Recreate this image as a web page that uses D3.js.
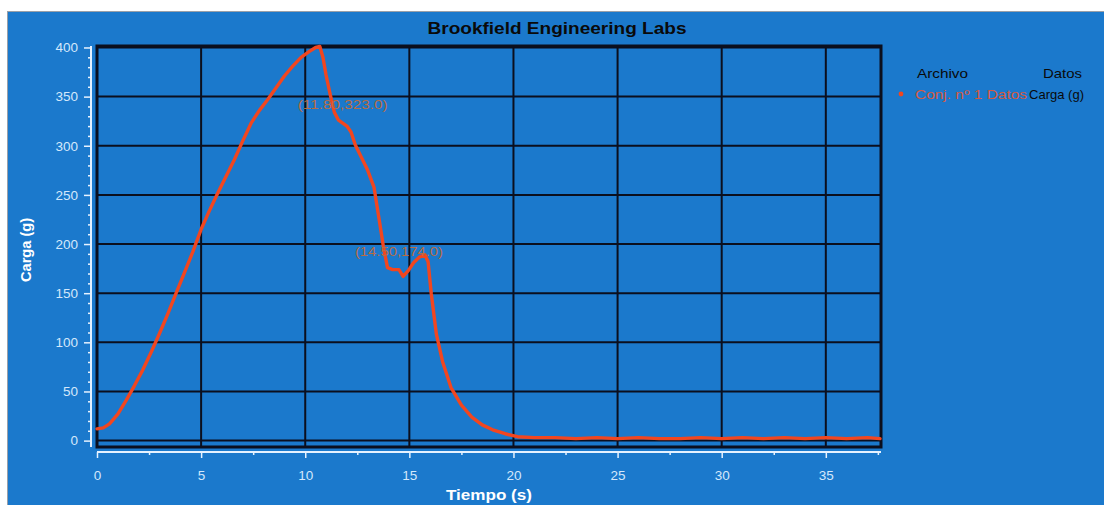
<!DOCTYPE html>
<html>
<head>
<meta charset="utf-8">
<script src="https://cdn.jsdelivr.net/npm/d3@7/dist/d3.min.js"></script>
<style>
  html, body { margin: 0; padding: 0; background: #ffffff; }
  svg { display: block; font-family: "Liberation Sans", Arial, sans-serif; }
</style>
</head>
<body>
<svg id="chart" width="1104" height="505"></svg>
<script>
// Load test record: time (s) and load (g)
const timeS = [0, 0.3, 0.6, 1.0, 1.4, 1.8, 2.2, 2.6, 3.0, 3.4, 3.8, 4.2, 4.6, 5.0, 5.4, 5.8, 6.2, 6.6, 7.0, 7.4,
  7.8, 8.2, 8.6, 9.0, 9.4, 9.8, 10.2, 10.5, 10.7, 10.85, 11.0, 11.2, 11.4, 11.6, 11.8, 12.0, 12.2, 12.4, 12.7, 13.0,
  13.3, 13.55, 13.75, 13.95, 14.2, 14.5, 14.7, 14.95, 15.2, 15.5, 15.75, 15.9, 16.05, 16.3, 16.6, 17.0, 17.5, 18.0,
  18.5, 19.0, 19.6, 20.2, 21.0, 22.0, 23.0, 24.0, 25.0, 26.0, 27.0, 28.0, 29.0, 30.0, 31.0, 32.0, 33.0, 34.0, 35.0,
  36.0, 37.0, 37.6];
const cargaG = [12, 13, 17, 27, 41, 56, 72, 90, 109, 129, 150, 171, 192, 215, 234, 252, 269, 286, 305, 323,
  336, 347, 359, 371, 381, 390, 396, 400, 401, 390, 372, 352, 334, 326, 323, 320, 314, 301, 288, 275,
  258, 225, 198, 176, 174, 174, 167, 173, 181, 187, 189, 182, 150, 108, 80, 54, 36, 24,
  16, 11, 7, 4, 3, 3, 2, 3, 2, 3, 2, 2, 3, 2, 3, 2, 3, 2, 3,
  2, 3, 2];

// Marked points on the curve
const markT = [11.80, 14.50];
const markV = [323.0, 174.0];

// Axis ticks
const xTicks = [0, 5, 10, 15, 20, 25, 30, 35];
const xMinor = [2.5, 7.5, 12.5, 17.5, 22.5, 27.5, 32.5, 37.5];
const yTicks = [0, 50, 100, 150, 200, 250, 300, 350, 400];
const yMinor = d3.range(0, 401, 10).filter(v => v % 50 !== 0);

const chartTitle = "Brookfield Engineering Labs";
const xTitle = "Tiempo (s)";
const yTitle = "Carga (g)";
const legendHead = ["Archivo", "Datos"];
const legendRow = ["Conj. nº 1 Datos", "Carga (g)"];

const svg = d3.select("#chart");
const W = 1104, H = 505;

// Panel background
svg.append("rect").attr("x", 7).attr("y", 11).attr("width", W - 7).attr("height", H - 11)
  .attr("fill", "#1b79cc");
svg.append("line").attr("x1", 7).attr("x2", W).attr("y1", 11.5).attr("y2", 11.5)
  .attr("stroke", "#9aa0a8").attr("stroke-width", 1);
svg.append("line").attr("x1", 7.5).attr("x2", 7.5).attr("y1", 11).attr("y2", H)
  .attr("stroke", "#9aa0a8").attr("stroke-width", 1);

const plot = { left: 97, right: 881, top: 46, bottom: 447 };
const x = d3.scaleLinear().domain([0, 37.65]).range([plot.left, plot.right]);
const y = d3.scaleLinear().domain([-6.5, 401.5]).range([plot.bottom, plot.top]);

// Grid
const grid = svg.append("g").attr("stroke", "#0b0f1e").attr("stroke-width", 2);
grid.selectAll("line.v").data(xTicks.filter(t => t > 0)).join("line")
  .attr("x1", d => x(d)).attr("x2", d => x(d)).attr("y1", plot.top).attr("y2", plot.bottom);
grid.selectAll("line.h").data(yTicks).join("line")
  .attr("x1", plot.left).attr("x2", plot.right).attr("y1", d => y(d)).attr("y2", d => y(d));
svg.append("rect").attr("x", plot.left).attr("y", plot.top)
  .attr("width", plot.right - plot.left).attr("height", plot.bottom - plot.top)
  .attr("fill", "none").attr("stroke", "#0b0f1e").attr("stroke-width", 3);

// Axes (white, offset outside the frame)
const axisColor = "#e6f2ff";
const labelColor = "#d4e8fb";
const yAxisX = 91;
const xAxisY = 452;

const yAxis = svg.append("g").attr("transform", `translate(${yAxisX},0)`)
  .call(d3.axisLeft(y).tickValues(yTicks).tickSize(7).tickPadding(6).tickFormat(d3.format("d")));
svg.append("g").attr("transform", `translate(${yAxisX},0)`)
  .call(d3.axisLeft(y).tickValues(yMinor).tickSize(3).tickFormat(""))
  .call(g => g.select(".domain").remove());

const xAxis = svg.append("g").attr("transform", `translate(0,${xAxisY})`)
  .call(d3.axisBottom(x).tickValues(xTicks).tickSize(6).tickPadding(12).tickFormat(d3.format("d")));
svg.append("g").attr("transform", `translate(0,${xAxisY})`)
  .call(d3.axisBottom(x).tickValues(xMinor).tickSize(3).tickFormat(""))
  .call(g => g.select(".domain").remove());

svg.selectAll(".domain").attr("stroke", axisColor).attr("stroke-width", 2);
yAxis.select(".domain").attr("d", `M0,${plot.top}V${plot.bottom}`);
xAxis.select(".domain").attr("d", `M${plot.left},0H${plot.right}`);
svg.selectAll(".tick line").attr("stroke", axisColor).attr("stroke-width", 1.5);
svg.selectAll(".tick text").attr("fill", labelColor).attr("font-size", 13.5)
  .attr("font-family", "Liberation Sans, Arial, sans-serif");

// Load curve
const pts = timeS.map((t, i) => [t, cargaG[i]]);
const line = d3.line().x(d => x(d[0])).y(d => y(d[1]));
svg.append("path").datum(pts).attr("d", line)
  .attr("fill", "none").attr("stroke", "#f2461f").attr("stroke-width", 3.4)
  .attr("stroke-linejoin", "round").attr("stroke-linecap", "round");

// Point labels
const fmt = d3.format(".2f"), fmt1 = d3.format(".1f");
const markW = [90, 88];
svg.selectAll("text.mark").data(markT).join("text")
  .attr("class", "mark")
  .attr("x", d => x(d)).attr("y", (d, i) => y(markV[i]) - 14)
  .attr("text-anchor", "middle").attr("font-size", 12)
  .attr("textLength", (d, i) => markW[i]).attr("lengthAdjust", "spacingAndGlyphs")
  .attr("fill", "#b86c45")
  .text((d, i) => `(${fmt(d)},${fmt1(markV[i])})`);

// Title
svg.append("text").attr("x", 557).attr("y", 34).attr("text-anchor", "middle")
  .attr("font-size", 17).attr("font-weight", "bold").attr("fill", "#0a0a0a")
  .attr("textLength", 259).attr("lengthAdjust", "spacingAndGlyphs")
  .text(chartTitle);

// Axis titles
svg.append("text").attr("x", 489).attr("y", 500).attr("text-anchor", "middle")
  .attr("font-size", 15).attr("font-weight", "bold").attr("fill", "#ffffff")
  .attr("textLength", 86).attr("lengthAdjust", "spacingAndGlyphs")
  .text(xTitle);
svg.append("text").attr("transform", "translate(31,250) rotate(-90)").attr("text-anchor", "middle")
  .attr("font-size", 14.5).attr("font-weight", "bold").attr("fill", "#ffffff")
  .attr("textLength", 64).attr("lengthAdjust", "spacingAndGlyphs")
  .text(yTitle);

// Legend
const lg = svg.append("g").attr("font-size", 13);
lg.append("text").attr("x", 917).attr("y", 78).attr("fill", "#0a0a0a")
  .attr("textLength", 51).attr("lengthAdjust", "spacingAndGlyphs").text(legendHead[0]);
lg.append("text").attr("x", 1043).attr("y", 78).attr("fill", "#0a0a0a")
  .attr("textLength", 39).attr("lengthAdjust", "spacingAndGlyphs").text(legendHead[1]);
lg.append("circle").attr("cx", 901).attr("cy", 94).attr("r", 2.4).attr("fill", "#f2461f");
lg.append("text").attr("x", 915).attr("y", 99).attr("fill", "#d65a40")
  .attr("textLength", 112).attr("lengthAdjust", "spacingAndGlyphs").text(legendRow[0]);
lg.append("text").attr("x", 1029).attr("y", 99).attr("fill", "#0a0a0a")
  .attr("textLength", 55).attr("lengthAdjust", "spacingAndGlyphs").text(legendRow[1]);
</script>
</body>
</html>
